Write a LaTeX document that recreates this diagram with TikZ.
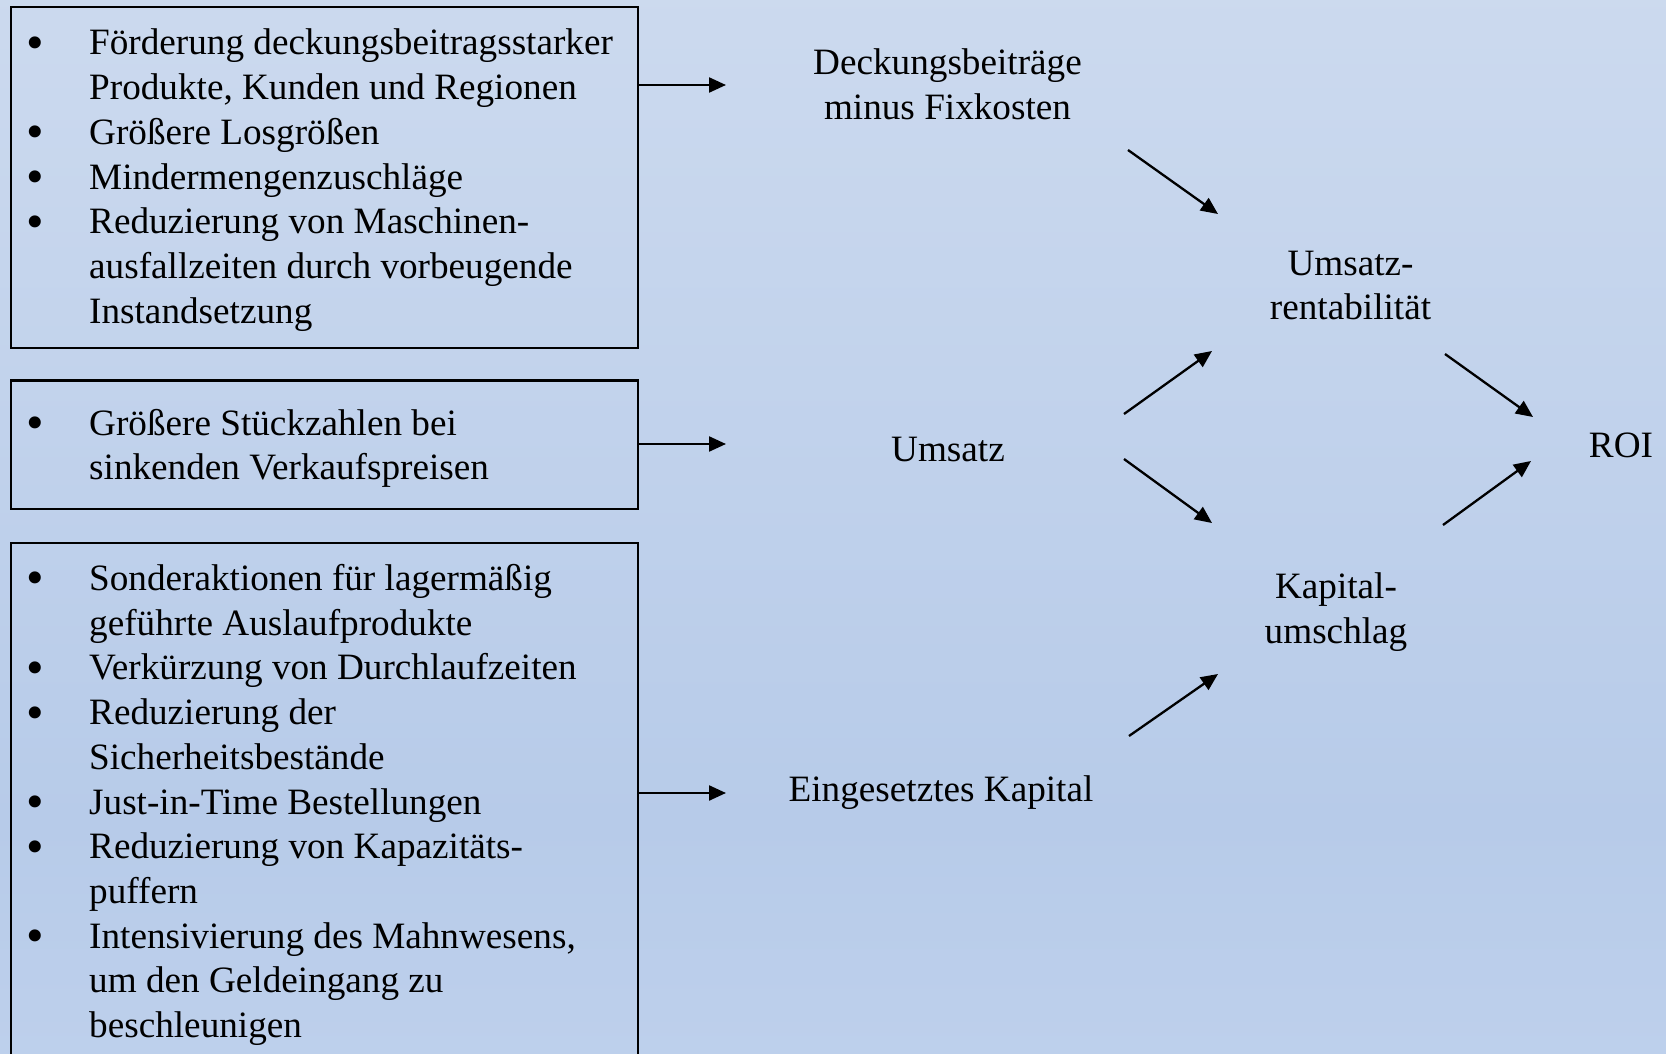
\documentclass[tikz,border=0pt]{standalone}
\usepackage{fontspec}
\setmainfont{Liberation Serif}
\usetikzlibrary{arrows.meta}
\definecolor{ctop}{HTML}{D9E3F2}
\definecolor{cmid}{HTML}{B7CBE9}
\definecolor{cbot}{HTML}{CCDBF2}
\pgfdeclareverticalshading{bgsh}{100bp}{color(0bp)=(cbot); color(36bp)=(cmid); color(100bp)=(ctop)}
\newcommand\bl{\makebox[60.5pt][l]{\hspace*{-2pt}\smash{\raisebox{-4.4pt}{\scalebox{1.35}{\textbullet}}}}}
\newcommand\cl{\hspace*{60.5pt}}
\newcommand\ml[1]{\begin{tabular}[t]{@{}c@{}}#1\end{tabular}}
\newcommand\bigfont{\fontsize{37.2}{44.7}\selectfont}
\begin{document}
\begin{tikzpicture}[x=1pt,y=-1pt,
  boxst/.style={draw=black, line width=2.5pt, inner sep=0pt, anchor=north west, minimum width=627pt},
  listst/.style={anchor=base west, inner sep=0pt, font=\bigfont},
  lab/.style={anchor=base, inner sep=0pt, font=\bigfont},
  arr/.style={line width=2.3pt, -{Triangle[length=17pt,width=15pt]}}]
\useasboundingbox (0,0) rectangle (1666,1054);
\clip (0,0) rectangle (1666,1054);
\shade[shading=bgsh] (0,0) rectangle (1666,1054);

% boxes
\node[boxst, minimum height=340.8pt] (b1) at (9.5,5.7) {};
\node[boxst, minimum height=128.4pt] (b2) at (9.5,379.3) {};
\node[boxst, minimum height=530pt] (b3) at (9.5,541.7) {};

% box texts
\node[listst] (t1) at (28.5,55) {\parbox[t]{620pt}{\bigfont
\bl Förderung deckungsbeitragsstarker\\
\cl Produkte, Kunden und Regionen\\
\bl Größere Losgrößen\\
\bl Mindermengenzuschläge\\
\bl Reduzierung von Maschinen-\\
\cl ausfallzeiten durch vorbeugende\\
\cl Instandsetzung}};
\node[listst] (t2) at (28.5,435) {\parbox[t]{620pt}{\bigfont
\bl Größere Stückzahlen bei\\
\cl sinkenden Verkaufspreisen}};
\node[listst] (t3) at (28.5,590.5) {\parbox[t]{620pt}{\bigfont
\bl Sonderaktionen für lagermäßig\\
\cl geführte Auslaufprodukte\\
\bl Verkürzung von Durchlaufzeiten\\
\bl Reduzierung der\\
\cl Sicherheitsbestände\\
\bl Just-in-Time Bestellungen\\
\bl Reduzierung von Kapazitäts-\\
\cl puffern\\
\bl Intensivierung des Mahnwesens,\\
\cl um den Geldeingang zu\\
\cl beschleunigen}};

% labels
\node[lab] (deck) at (947.5,75) {\ml{Deckungsbeiträge\\minus Fixkosten}};
\node[lab] (ums) at (948,461) {Umsatz};
\node[lab] (kap) at (941,801) {Eingesetztes Kapital};
\node[lab] (ur) at (1350.5,275) {\ml{Umsatz-\\rentabilität}};
\node[lab] (ku) at (1336,598.5) {\ml{Kapital-\\umschlag}};
\node[lab] (roi) at (1621,457) {ROI};

% arrow coordinates
\coordinate (h1) at (726,85);
\coordinate (h2) at (726,444);
\coordinate (h3) at (726,793);
\coordinate (a1s) at (1128,150);
\coordinate (a1e) at (1218,214);
\coordinate (a2s) at (1124,414);
\coordinate (a2e) at (1212,351);
\coordinate (a3s) at (1124,459);
\coordinate (a3e) at (1212,523);
\coordinate (a4s) at (1129,736);
\coordinate (a4e) at (1218,674);
\coordinate (a5s) at (1445,354);
\coordinate (a5e) at (1533,417);
\coordinate (a6s) at (1443,525);
\coordinate (a6e) at (1531,461);

\draw[arr] (b1.east |- h1) -- (h1);
\draw[arr] (b2.east |- h2) -- (h2);
\draw[arr] (b3.east |- h3) -- (h3);
\draw[arr] (a1s) -- (a1e);
\draw[arr] (a2s) -- (a2e);
\draw[arr] (a3s) -- (a3e);
\draw[arr] (a4s) -- (a4e);
\draw[arr] (a5s) -- (a5e);
\draw[arr] (a6s) -- (a6e);
\end{tikzpicture}
\end{document}
